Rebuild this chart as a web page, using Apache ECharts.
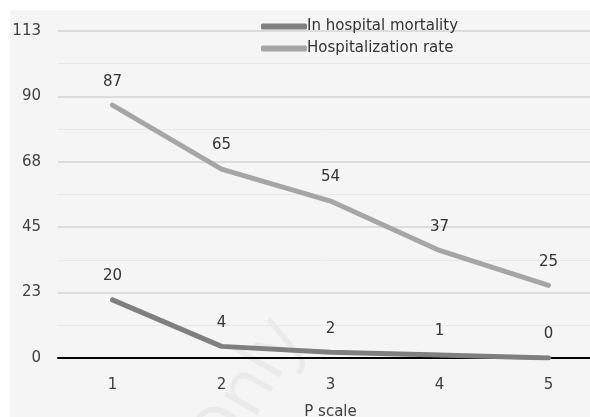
<!DOCTYPE html>
<html>
<head>
<meta charset="utf-8">
<script src="https://cdn.jsdelivr.net/npm/echarts@6/dist/echarts.min.js"></script>
<style>
html,body{margin:0;padding:0;background:#ffffff;}
#c{width:590px;height:417px;}
</style>
</head>
<body>
<div id="c"></div>
<script>
const categories = ['1', '2', '3', '4', '5'];
const mortality = [20, 4, 2, 1, 0];
const hospitalization = [87, 65, 54, 37, 25];
const yTicks = [0, 22.5, 45, 67.5, 90, 112.5];

const chart = echarts.init(document.getElementById('c'), null, {renderer: 'canvas'});
const font = '"DejaVu Sans", "Open Sans", sans-serif';
chart.setOption({
  animation: false,
  backgroundColor: '#ffffff',
  graphic: [
    {type: 'rect', left: 10, top: 10, z: -10, shape: {width: 600, height: 420}, style: {fill: '#f5f5f5'}},
    {type: 'text', x: 247, y: 392, rotation: Math.PI / 3, z: -5,
     style: {text: 'Only', font: '72px "Open Sans", sans-serif', fill: 'rgba(0,0,0,0.045)', align: 'center', verticalAlign: 'middle'}}
  ],
  legend: {
    orient: 'vertical',
    left: 256,
    top: 14,
    itemWidth: 46,
    itemHeight: 6,
    itemGap: 7,
    icon: 'roundRect',
    textStyle: {fontFamily: font, fontSize: 15, color: '#333', padding: [0, 0, 0, -5]},
    data: ['In hospital mortality', 'Hospitalization rate']
  },
  grid: {left: 58, right: -13, top: 31, bottom: 59, containLabel: false, outerBoundsMode: 'none'},
  xAxis: {
    type: 'category',
    data: categories,
    boundaryGap: true,
    name: 'P scale',
    nameLocation: 'middle',
    nameGap: 47,
    nameTextStyle: {fontFamily: font, fontSize: 15, color: '#404040'},
    axisLine: {show: true, lineStyle: {color: '#000', width: 2}},
    axisTick: {show: false},
    axisLabel: {fontFamily: font, fontSize: 15, color: '#404040', margin: 20}
  },
  yAxis: {
    type: 'value',
    min: 0,
    max: 112.5,
    interval: 22.5,
    axisLine: {show: false},
    axisTick: {show: false},
    axisLabel: {fontFamily: font, fontSize: 15, color: '#404040', margin: 17,
      formatter: v => String(Math.round(v))},
    splitLine: {lineStyle: {color: '#d3d3d3', width: 1.5}},
    minorTick: {show: false, splitNumber: 2},
    minorSplitLine: {show: true, lineStyle: {color: '#e8e8e8', width: 1}}
  },
  series: [
    {
      name: 'In hospital mortality',
      type: 'line',
      data: mortality,
      showSymbol: true,
      symbol: 'circle',
      symbolSize: 0.01,
      color: '#7f7f7f',
      lineStyle: {width: 5, color: '#7f7f7f', cap: 'round', join: 'round'},
      label: {show: true, position: 'top', distance: 16, fontFamily: font, fontSize: 15, color: '#333'},
      z: 3
    },
    {
      name: 'Hospitalization rate',
      type: 'line',
      data: hospitalization,
      showSymbol: true,
      symbol: 'circle',
      symbolSize: 0.01,
      color: '#a6a6a6',
      lineStyle: {width: 5, color: '#a6a6a6', cap: 'round', join: 'round'},
      label: {show: true, position: 'top', distance: 16, fontFamily: font, fontSize: 15, color: '#333'},
      z: 2
    }
  ]
});
</script>
</body>
</html>
